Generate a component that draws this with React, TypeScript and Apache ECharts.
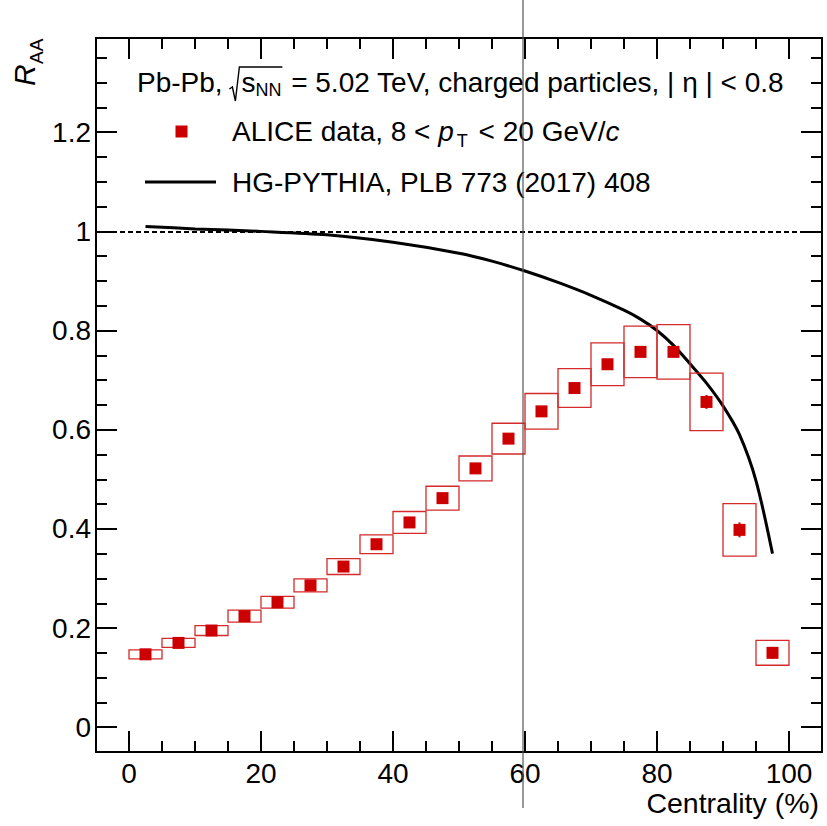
import React, { useEffect, useRef } from "react";
import * as echarts from "echarts";

const FONT = '"Liberation Sans", Arial, Helvetica, sans-serif';

// ---- data ----
const centrality = [2.5, 7.5, 12.5, 17.5, 22.5, 27.5, 32.5, 37.5, 42.5, 47.5, 52.5, 57.5, 62.5, 67.5, 72.5, 77.5, 82.5, 87.5, 92.5, 97.5];
const raa = [0.147, 0.170, 0.195, 0.224, 0.252, 0.286, 0.324, 0.369, 0.413, 0.462, 0.522, 0.582, 0.637, 0.684, 0.732, 0.757, 0.757, 0.656, 0.398, 0.150];
const sysErr = [0.009, 0.009, 0.010, 0.012, 0.012, 0.013, 0.016, 0.019, 0.022, 0.024, 0.025, 0.031, 0.036, 0.039, 0.043, 0.052, 0.055, 0.058, 0.053, 0.025];
const statErr = [0.004, 0.004, 0.004, 0.004, 0.004, 0.004, 0.004, 0.004, 0.005, 0.005, 0.005, 0.005, 0.006, 0.006, 0.007, 0.008, 0.010, 0.014, 0.015, 0.012];
const binHalfWidth = 2.5;

const modelX = [2.5, 10, 20, 30, 40, 50, 55, 60, 65, 70, 75, 77.5, 80, 82.5, 85, 87.5, 90, 92.5, 95, 97.5];
const modelY = [1.010, 1.005, 1.000, 0.993, 0.978, 0.956, 0.940, 0.920, 0.897, 0.871, 0.841, 0.823, 0.800, 0.770, 0.733, 0.694, 0.648, 0.590, 0.497, 0.350];

const xMajor = [0, 20, 40, 60, 80, 100];
const xMinor = [5, 10, 15, 25, 30, 35, 45, 50, 55, 65, 70, 75, 85, 90, 95];
const yMajor = [0, 0.2, 0.4, 0.6, 0.8, 1, 1.2];
const yMinor = [0.05, 0.1, 0.15, 0.25, 0.3, 0.35, 0.45, 0.5, 0.55, 0.65, 0.7, 0.75, 0.85, 0.9, 0.95, 1.05, 1.1, 1.15, 1.25, 1.3, 1.35];
const referenceLevel = 1;

const RED = "#cc0000";

let measureCtx: CanvasRenderingContext2D | null = null;
function tw(text: string, size: number, italic?: boolean) {
  if (!measureCtx) measureCtx = document.createElement("canvas").getContext("2d");
  measureCtx!.font = `${italic ? "italic " : ""}${size}px ${FONT}`;
  return measureCtx!.measureText(text).width;
}

type Piece = { text: string; size: number; italic?: boolean; dy?: number; gap?: number };
function buildRow(pieces: Piece[], x0: number, y: number) {
  let x = x0;
  const els: any[] = [];
  const pos: number[][] = [];
  for (const p of pieces) {
    if (p.text) {
      els.push({
        type: "text",
        x,
        y: y + (p.dy || 0),
        style: {
          text: p.text,
          fontSize: p.size,
          fontFamily: FONT,
          fontStyle: p.italic ? "italic" : "normal",
          fill: "#000",
          align: "left",
          verticalAlign: "middle",
        },
      });
    }
    const w = p.text ? tw(p.text, p.size, p.italic) : 0;
    pos.push([x, x + w]);
    x += w + (p.gap || 0);
  }
  return { els, pos };
}

export default function App() {
  const ref = useRef<HTMLDivElement>(null);
  useEffect(() => {
    if (!ref.current) return;
    const chart = echarts.init(ref.current, null, { renderer: "svg" });

    const LFS = 28;
    const SFS = 18;
    // row 1
    const r1 = buildRow(
      [
        { text: "Pb-Pb, ", size: LFS },
        { text: "", size: LFS, gap: 11 },
        { text: "s", size: LFS },
        { text: "NN", size: SFS, dy: 8, gap: 2 },
        { text: " = 5.02 TeV, charged particles, | \u03b7 | < 0.8", size: LFS },
      ],
      137,
      82
    );
    const sqrtX = r1.pos[1][0];
    const overEnd = r1.pos[3][1] + 1;
    const sqrtEl = {
      type: "polyline",
      shape: { points: [[sqrtX - 1, 89], [sqrtX + 2, 87], [sqrtX + 5, 101], [sqrtX + 9, 67], [overEnd, 67]] },
      style: { stroke: "#000", lineWidth: 1.4, fill: "none" },
    };
    // row 2
    const r2 = buildRow(
      [
        { text: "ALICE data, 8 < ", size: LFS },
        { text: "p", size: LFS, italic: true, gap: 3 },
        { text: "T", size: SFS, dy: 10, gap: 3 },
        { text: " < 20 GeV/", size: LFS },
        { text: "c", size: LFS, italic: true },
      ],
      232,
      131
    );
    const r3 = buildRow([{ text: "HG-PYTHIA, PLB 773 (2017) 408", size: LFS }], 232, 182);

    const graphics: any[] = [
      ...r1.els,
      sqrtEl,
      ...r2.els,
      ...r3.els,
      {
        type: "rect",
        shape: { x: 175.5, y: 125.5, width: 12, height: 12 },
        style: { fill: RED },
      },
      {
        type: "line",
        shape: { x1: 145, y1: 182, x2: 216, y2: 182 },
        style: { stroke: "#000", lineWidth: 3 },
      },
      // axis titles
      {
        type: "text",
        x: 819,
        y: 803,
        style: { text: "Centrality (%)", fontSize: 28.5, fontFamily: FONT, fill: "#000", align: "right", verticalAlign: "middle" },
      },
      {
        type: "group",
        x: 24,
        y: 86,
        rotation: Math.PI / 2,
        children: [
          {
            type: "text",
            x: 0,
            y: 0,
            style: { text: "R", fontSize: 30, fontStyle: "italic", fontFamily: FONT, fill: "#000", align: "left", verticalAlign: "middle" },
          },
          {
            type: "text",
            x: 22,
            y: 12,
            style: { text: "AA", fontSize: 19, fontFamily: FONT, fill: "#000", align: "left", verticalAlign: "middle" },
          },
        ],
      },
      // stray thin vertical line in the reference picture
      {
        type: "line",
        z: 100,
        shape: { x1: 523, y1: 0, x2: 523, y2: 808 },
        style: { stroke: "#555", lineWidth: 1.2 },
      },
    ];

    const axisLine = { show: true, onZero: false, lineStyle: { color: "#000", width: 2 } };
    const noLine = { show: false, onZero: false };
    const tickStyle = { color: "#000", width: 2 };
    const labelStyle = { fontSize: 28, fontFamily: FONT, color: "#000" };
    const fmt = (v: number) => String(Math.round(v * 10) / 10);

    const mkX = (position: string, major: boolean, showLine: boolean, showLabel: boolean) => ({
      type: "value",
      min: -5,
      max: 105,
      position,
      axisLine: showLine ? axisLine : noLine,
      axisTick: { show: true, inside: true, length: major ? 21 : 11, customValues: major ? xMajor : xMinor, lineStyle: tickStyle },
      axisLabel: showLabel
        ? { show: true, customValues: xMajor, margin: 7, formatter: fmt, ...labelStyle }
        : { show: false },
      splitLine: { show: false },
    });
    const mkY = (position: string, major: boolean, showLine: boolean, showLabel: boolean) => ({
      type: "value",
      min: -0.05,
      max: 1.39,
      position,
      axisLine: showLine ? axisLine : noLine,
      axisTick: { show: true, inside: true, length: major ? 21 : 11, customValues: major ? yMajor : yMinor, lineStyle: tickStyle },
      axisLabel: showLabel
        ? { show: true, customValues: yMajor, margin: 5, formatter: fmt, ...labelStyle }
        : { show: false },
      splitLine: { show: false },
    });

    chart.setOption({
      animation: false,
      backgroundColor: "#fff",
      grid: { left: 96, top: 38, right: 5, bottom: 74, containLabel: false },
      xAxis: [
        mkX("bottom", true, true, true),
        mkX("bottom", false, false, false),
        mkX("top", true, true, false),
        mkX("top", false, false, false),
      ],
      yAxis: [
        mkY("left", true, true, true),
        mkY("left", false, false, false),
        mkY("right", true, true, false),
        mkY("right", false, false, false),
      ],
      series: [
        {
          type: "line",
          name: "HG-PYTHIA",
          xAxisIndex: 0,
          yAxisIndex: 0,
          data: modelX.map((x, i) => [x, modelY[i]]),
          showSymbol: false,
          smooth: 0.3,
          lineStyle: { color: "#000", width: 3 },
          z: 3,
          markLine: {
            silent: true,
            symbol: "none",
            label: { show: false },
            lineStyle: { color: "#000", width: 2, type: [5, 3] },
            data: [{ yAxis: referenceLevel }],
          },
        },
        {
          type: "custom",
          name: "sys",
          xAxisIndex: 0,
          yAxisIndex: 0,
          data: centrality.map((c, i) => [c, raa[i], sysErr[i]]),
          encode: { x: 0, y: 1 },
          z: 4,
          renderItem: (_p: any, api: any) => {
            const x = api.value(0);
            const y = api.value(1);
            const e = api.value(2);
            const p1 = api.coord([x - binHalfWidth, y + e]);
            const p2 = api.coord([x + binHalfWidth, y - e]);
            return {
              type: "rect",
              shape: { x: p1[0], y: p1[1], width: p2[0] - p1[0], height: p2[1] - p1[1] },
              style: { fill: "none", stroke: "#d42a2a", lineWidth: 1.3 },
            };
          },
        },
        {
          type: "custom",
          name: "stat",
          xAxisIndex: 0,
          yAxisIndex: 0,
          data: centrality.map((c, i) => [c, raa[i], statErr[i]]),
          encode: { x: 0, y: 1 },
          z: 5,
          renderItem: (_p: any, api: any) => {
            const x = api.value(0);
            const y = api.value(1);
            const e = api.value(2);
            const p1 = api.coord([x, y + e]);
            const p2 = api.coord([x, y - e]);
            return {
              type: "line",
              shape: { x1: p1[0], y1: p1[1], x2: p2[0], y2: p2[1] },
              style: { stroke: RED, lineWidth: 2 },
            };
          },
        },
        {
          type: "scatter",
          name: "ALICE",
          xAxisIndex: 0,
          yAxisIndex: 0,
          data: centrality.map((c, i) => [c, raa[i]]),
          symbol: "rect",
          symbolSize: 12,
          itemStyle: { color: RED, opacity: 1 },
          z: 6,
        },
      ],
      graphic: graphics,
    });
    return () => chart.dispose();
  }, []);
  return (
    <div
      ref={ref}
      style={{ position: "fixed", left: 0, top: 0, width: 827, height: 826, background: "#fff" }}
    />
  );
}
